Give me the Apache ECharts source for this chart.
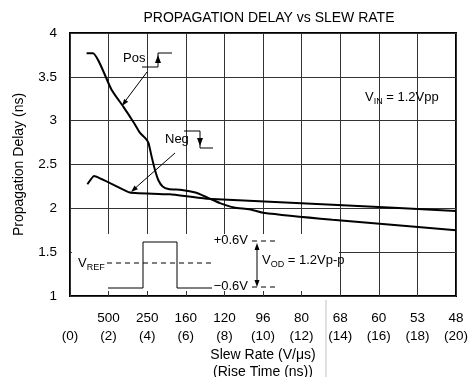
<!DOCTYPE html>
<html>
<head>
<meta charset="utf-8">
<script src="https://cdn.jsdelivr.net/npm/echarts@6/dist/echarts.min.js"></script>
<style>
  html, body { margin: 0; padding: 0; background: #fff; }
  #main { width: 468px; height: 377px; }
</style>
</head>
<body>
<div id="main"></div>
<script>
// rise time (ns) ticks and the slew rate (V/us) printed above each one
var riseTicks = [0, 2, 4, 6, 8, 10, 12, 14, 16, 18, 20];
var slewLabels = ['', '500', '250', '160', '120', '96', '80', '68', '60', '53', '48'];

// Pos edge curve
var posRise  = [0.86, 1.18, 2.16, 2.76, 3.3, 3.63, 3.9, 4.06, 4.23, 4.4, 4.58, 4.8, 5.1, 5.8, 6.5, 7.15, 7.77, 8.5, 9.3, 10.0, 13.6, 20];
var posDelay = [3.77, 3.77, 3.35, 3.16, 2.98, 2.86, 2.8, 2.75, 2.59, 2.44, 2.32, 2.25, 2.22, 2.21, 2.18, 2.12, 2.06, 2.01, 1.99, 1.95, 1.87, 1.75];

// Neg edge curve
var negRise  = [0.9, 1.24, 3.11, 5.18, 7.1, 13.6, 20];
var negDelay = [2.275, 2.37, 2.18, 2.16, 2.11, 2.04, 1.97];

function zip(xs, ys) {
    return xs.map(function (x, i) { return [x, ys[i]]; });
}

var font = 'Liberation Sans, Arial, Helvetica, sans-serif';
var chart = echarts.init(document.getElementById('main'));

// small helpers for the hand-drawn annotation marks
function seg(pts, dash) {
    return {
        type: 'polyline', z: 10, silent: true,
        shape: { points: pts },
        style: { stroke: '#000', lineWidth: 1, fill: null, lineDash: dash || null }
    };
}
function head(x1, y1, x2, y2, len, half) {
    var dx = x2 - x1, dy = y2 - y1, d = Math.sqrt(dx * dx + dy * dy);
    var ux = dx / d, uy = dy / d;
    var bx = x2 - ux * len, by = y2 - uy * len;
    return {
        type: 'polygon', z: 10, silent: true,
        shape: { points: [[x2, y2], [bx - uy * half, by + ux * half], [bx + uy * half, by - ux * half]] },
        style: { fill: '#000' }
    };
}
function txt(x, y, t, align, rich) {
    return {
        type: 'text', z: 10, silent: true, x: x, y: y,
        style: {
            text: t, fontFamily: font, fontSize: 13, fill: '#000',
            align: align || 'left', verticalAlign: 'middle', rich: rich || {}
        }
    };
}
var subRich = {
    v: { fontFamily: font, fontSize: 13, fill: '#000' },
    s: { fontFamily: font, fontSize: 9, fill: '#000', padding: [9, 0, 0, 0] }
};

var graphics = [
    // white box behind the input-waveform inset
    { type: 'rect', z: 1, silent: true, shape: { x: 72, y: 234, width: 267, height: 57 }, style: { fill: '#fff' } },
    // Pos label, rising edge and pointer
    txt(123, 58, 'Pos'),
    seg([[142, 67], [158, 67], [158, 53], [172, 53]]),
    head(158, 64, 158, 55, 8, 3),
    seg([[147, 72], [123, 104]]),
    head(147, 72, 122, 106, 7, 2.5),
    // Neg label, falling edge and pointer
    txt(165, 139, 'Neg'),
    seg([[184, 131], [200, 131], [200, 148], [213, 148]]),
    head(200, 136, 200, 146, 8, 3),
    seg([[175, 153], [133, 190]]),
    head(175, 153, 131, 192, 7, 2.5),
    // input amplitude
    txt(365, 97, '{v|V}{s|IN}{v| = 1.2Vpp}', 'left', subRich),
    // inset waveform
    seg([[108, 288], [143, 288], [143, 242], [177, 242], [177, 288], [212, 288]]),
    seg([[107, 263], [212, 263]], [5, 4]),
    txt(78, 263, '{v|V}{s|REF}', 'left', subRich),
    txt(248, 240, '+0.6V', 'right'),
    txt(248, 286, '\u22120.6V', 'right'),
    seg([[252, 241], [278, 241]], [5, 4]),
    seg([[252, 287], [278, 287]], [5, 4]),
    seg([[257, 246], [257, 283]]),
    head(257, 250, 257, 243, 7, 2.5),
    head(257, 280, 257, 287, 7, 2.5),
    txt(262, 260, '{v|V}{s|OD}{v| = 1.2Vp-p}', 'left', subRich),
    // faint scanner line under the axis
    { type: 'line', z: 10, silent: true, shape: { x1: 326, y1: 300, x2: 326, y2: 377 }, style: { stroke: '#999', lineWidth: 0.6 } }
];

chart.setOption({
    backgroundColor: '#fff',
    animation: false,
    title: {
        text: 'PROPAGATION DELAY vs SLEW RATE',
        left: 264, top: 6, textAlign: 'center',
        textStyle: { fontFamily: font, fontSize: 14, fontWeight: 'normal', color: '#000' }
    },
    grid: {
        left: 70, right: 12, top: 33, bottom: 81,
        outerBoundsMode: 'none', containLabel: false,
        show: true, borderColor: '#000', borderWidth: 2, backgroundColor: 'transparent'
    },
    xAxis: {
        type: 'value', min: 0, max: 20, interval: 2,
        axisLine: { show: false }, axisTick: { show: false },
        splitLine: { lineStyle: { color: '#333', width: 1 } },
        axisLabel: {
            margin: 13, fontFamily: font, fontSize: 13.5, color: '#000', lineHeight: 18,
            formatter: function (v) {
                var i = riseTicks.indexOf(v);
                return (slewLabels[i] || ' ') + '\n(' + v + ')';
            }
        },
        name: 'Slew Rate (V/\u03bcs)\n(Rise Time (ns))',
        nameLocation: 'middle', nameGap: 51, nameMoveOverlap: false,
        nameTextStyle: { fontFamily: font, fontSize: 14, color: '#000', lineHeight: 17 }
    },
    yAxis: {
        type: 'value', min: 1, max: 4, interval: 0.5,
        axisLine: { show: false }, axisTick: { show: false },
        splitLine: { lineStyle: { color: '#333', width: 1 } },
        axisLabel: { margin: 13, fontFamily: font, fontSize: 13.5, color: '#000' },
        name: 'Propagation Delay (ns)',
        nameLocation: 'middle', nameGap: 44, nameMoveOverlap: false,
        nameTextStyle: { fontFamily: font, fontSize: 14, color: '#000' }
    },
    series: [
        {
            name: 'Pos', type: 'line', data: zip(posRise, posDelay),
            showSymbol: false, smooth: 0.2, z: 5,
            lineStyle: { color: '#000', width: 2 }
        },
        {
            name: 'Neg', type: 'line', data: zip(negRise, negDelay),
            showSymbol: false, smooth: 0.1, z: 5,
            lineStyle: { color: '#000', width: 2 }
        }
    ],
    graphic: graphics
});
</script>
</body>
</html>
